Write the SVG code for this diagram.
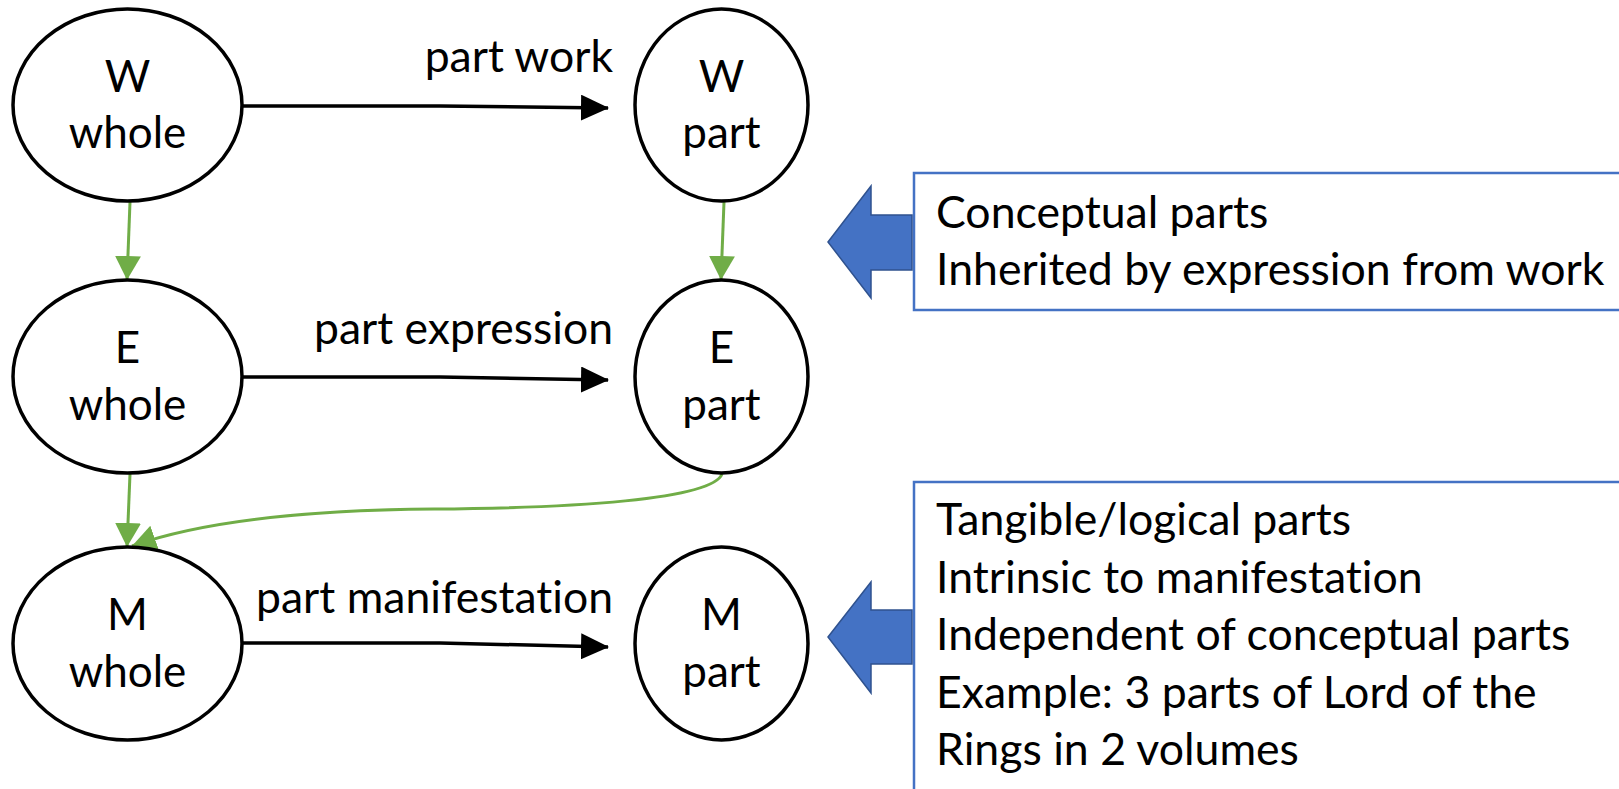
<svg xmlns="http://www.w3.org/2000/svg" width="1619" height="789" viewBox="0 0 1619 789">
<defs>
<style>
.node ellipse{fill:#fff;stroke:#000;stroke-width:3.5}
text{font-family:Lato,"Liberation Sans",sans-serif;fill:#000;font-variant-ligatures:none;font-feature-settings:"liga" 0}
.nt{font-size:44px;text-anchor:middle}
.el{font-size:44.5px;text-anchor:end}
.bt{font-size:44.6px}
.blk{fill:none;stroke:#000;stroke-width:3.5}
.grn{fill:none;stroke:#70AD47;stroke-width:3}
.box{fill:#fff;stroke:#4472C4;stroke-width:2.5}
.barrow{fill:#4472C4;stroke:#2F528F;stroke-width:1.5}
</style>
<marker id="ab" markerUnits="userSpaceOnUse" markerWidth="28" markerHeight="26" refX="27" refY="13" orient="auto"><path d="M0,0 L28,13 L0,26 Z" fill="#000"/></marker>
<marker id="ag" markerUnits="userSpaceOnUse" markerWidth="24" markerHeight="26" refX="24" refY="13" orient="auto"><path d="M0,0 L24,13 L0,26 Z" fill="#70AD47"/></marker>
</defs>
<rect width="1619" height="789" fill="#fff"/>
<g id="connectors">
<path class="blk" d="M242,106 L440,106 L608,108" marker-end="url(#ab)"/>
<path class="blk" d="M242,377 L440,377 L608,380" marker-end="url(#ab)"/>
<path class="blk" d="M242,643 L440,643 L608,647" marker-end="url(#ab)"/>
<path class="grn" d="M130,202 L127,280" marker-end="url(#ag)"/>
<path class="grn" d="M724,202 L721,280" marker-end="url(#ag)"/>
<path class="grn" d="M130,474 L127,547" marker-end="url(#ag)"/>
<path class="grn" d="M722,474 C712,500 570,508 434,509 C300,510 200,522 132,546" marker-end="url(#ag)"/>
</g>
<g id="label-part-work"><text class="el" x="613" y="72">part work</text></g>
<g id="label-part-expression"><text class="el" x="613" y="344">part expression</text></g>
<g id="label-part-manifestation"><text class="el" x="613" y="613">part manifestation</text></g>
<g id="w-whole" class="node"><ellipse cx="127.5" cy="105" rx="114.5" ry="96"/><text class="nt" x="127.5" y="92">W</text><text class="nt" x="127.5" y="148">whole</text></g>
<g id="w-part" class="node"><ellipse cx="721.5" cy="105" rx="86.5" ry="96"/><text class="nt" x="721.5" y="92">W</text><text class="nt" x="721.5" y="148">part</text></g>
<g id="e-whole" class="node"><ellipse cx="127.5" cy="376.5" rx="114.5" ry="96.5"/><text class="nt" x="127.5" y="363">E</text><text class="nt" x="127.5" y="420">whole</text></g>
<g id="e-part" class="node"><ellipse cx="721.5" cy="376.5" rx="86.5" ry="96.5"/><text class="nt" x="721.5" y="363">E</text><text class="nt" x="721.5" y="420">part</text></g>
<g id="m-whole" class="node"><ellipse cx="127.5" cy="643.5" rx="114.5" ry="96.5"/><text class="nt" x="127.5" y="630">M</text><text class="nt" x="127.5" y="687">whole</text></g>
<g id="m-part" class="node"><ellipse cx="721.5" cy="643.5" rx="86.5" ry="96.5"/><text class="nt" x="721.5" y="630">M</text><text class="nt" x="721.5" y="687">part</text></g>
<g id="note-conceptual">
<rect class="box" x="914" y="173" width="710" height="137"/>
<text class="bt" x="936" y="228">Conceptual parts</text>
<text class="bt" x="936" y="285">Inherited by expression from work</text>
</g>
<g id="arrow-conceptual"><path class="barrow" d="M828,242 L871,186 L871,215 L912,215 L912,270 L871,270 L871,298 Z"/></g>
<g id="note-tangible">
<rect class="box" x="914" y="482" width="710" height="320"/>
<text class="bt" x="936" y="535">Tangible/logical parts</text>
<text class="bt" x="936" y="593">Intrinsic to manifestation</text>
<text class="bt" x="936" y="650">Independent of conceptual parts</text>
<text class="bt" x="936" y="708">Example: 3 parts of Lord of the</text>
<text class="bt" x="936" y="765">Rings in 2 volumes</text>
</g>
<g id="arrow-tangible"><path class="barrow" d="M828,637 L871,582 L871,610 L912,610 L912,664 L871,664 L871,693 Z"/></g>
</svg>
